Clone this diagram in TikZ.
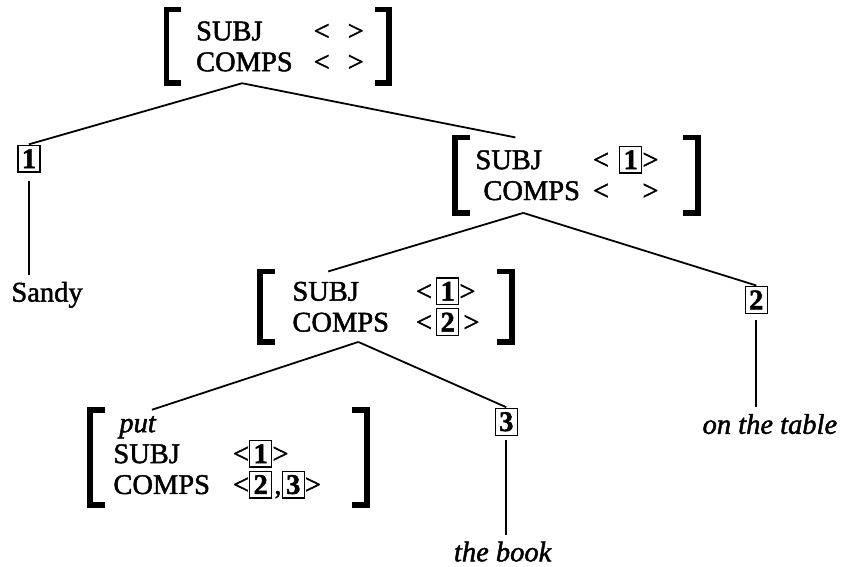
\documentclass[tikz,border=0pt]{standalone}
\usepackage{fontspec}
\setmainfont{Liberation Serif}[FakeBold=1.6]
\usetikzlibrary{positioning}

% boxed tag and label column
\newcommand{\tg}[1]{{\setlength{\fboxsep}{1.6pt}\setlength{\fboxrule}{0.7pt}\fbox{\textbf{#1}}}}
\newcommand{\lbl}[2][59pt]{\makebox[#1][l]{#2}}
% square brackets round an avm node
\newcommand{\avmbrackets}[1]{%
  \draw[brk] ([xshift=6pt]#1.north west) -- (#1.north west) -- (#1.south west) -- ([xshift=6pt]#1.south west);
  \draw[brk] ([xshift=-6pt]#1.north east) -- (#1.north east) -- (#1.south east) -- ([xshift=-6pt]#1.south east);}

\begin{document}
\begin{tikzpicture}[every node/.style={font=\fontsize{14.3}{15.5}\selectfont},
  avm/.style={align=left,inner ysep=0pt},
  tagnode/.style={inner sep=0pt},
  brk/.style={line width=2.8pt,line cap=rect},
  branch/.style={line width=0.9pt}]
\useasboundingbox (0,0) rectangle (14.87,10.00);

\node[avm,text width=88pt,inner xsep=11.75pt,minimum height=36.5pt] (top) at (4.90,9.18)
  {\hspace*{3pt}\lbl{SUBJ}\textless\hspace{9pt}\textgreater\\ \hspace*{3pt}\lbl{COMPS}\textless\hspace{9pt}\textgreater};
\node[avm,text width=101.5pt,inner xsep=10pt,minimum height=37.5pt] (vp) at (10.17,6.91)
  {\lbl{SUBJ}\textless\hspace{5pt}\tg{1}\textgreater\\ \lbl{\hspace*{4pt}COMPS}\textless\hspace{5pt}\phantom{\tg{1}}\textgreater};
\node[avm,text width=94pt,inner xsep=16pt,minimum height=35pt] (vbar) at (6.81,4.59)
  {\lbl[62pt]{SUBJ}\textless\hspace{2pt}\tg{1}\textgreater\\ \lbl[62pt]{COMPS}\textless\hspace{2pt}\tg{2}\hspace{2pt}\textgreater};
\node[avm,text width=115.5pt,inner xsep=11.5pt,minimum height=47.5pt] (verb) at (4.03,1.93)
  {\hspace*{3pt}\textit{put}\\ \lbl[60pt]{SUBJ}\textless\tg{1}\textgreater\\ \lbl[60pt]{COMPS}\textless\tg{2}\hspace{1pt},\tg{3}\textgreater};
\avmbrackets{top}
\avmbrackets{vp}
\avmbrackets{vbar}
\avmbrackets{verb}

\node[tagnode] (t1) at (0.51,7.20) {\tg{1}};
\node (sandy) at (0.83,4.80) {Sandy};
\node[tagnode] (t2) at (13.34,4.71) {\tg{2}};
\node (table) at (13.58,2.52) {\textit{on the table}};
\node[tagnode] (t3) at (8.93,2.56) {\tg{3}};
\node (book) at (8.87,0.27) {\textit{the book}};

\draw[branch] ([xshift=-0.63cm]top.south) -- (t1.north);
\draw[branch] ([xshift=-0.63cm]top.south) -- ([xshift=-1.08cm]vp.north);
\draw[branch] ([xshift=-0.94cm]vp.south) -- ([xshift=-1.02cm]vbar.north);
\draw[branch] ([xshift=-0.94cm]vp.south) -- (t2.north);
\draw[branch] ([xshift=-0.49cm]vbar.south) -- ([xshift=-1.35cm]verb.north);
\draw[branch] ([xshift=-0.49cm]vbar.south) -- (t3.north);
\draw[branch] ([yshift=-4pt]t1.south) -- (t1.south |- sandy.north);
\draw[branch] ([yshift=-3pt]t2.south) -- (t2.south |- table.north);
\draw[branch] ([yshift=-2pt]t3.south) -- (t3.south |- book.north);
\end{tikzpicture}
\end{document}
